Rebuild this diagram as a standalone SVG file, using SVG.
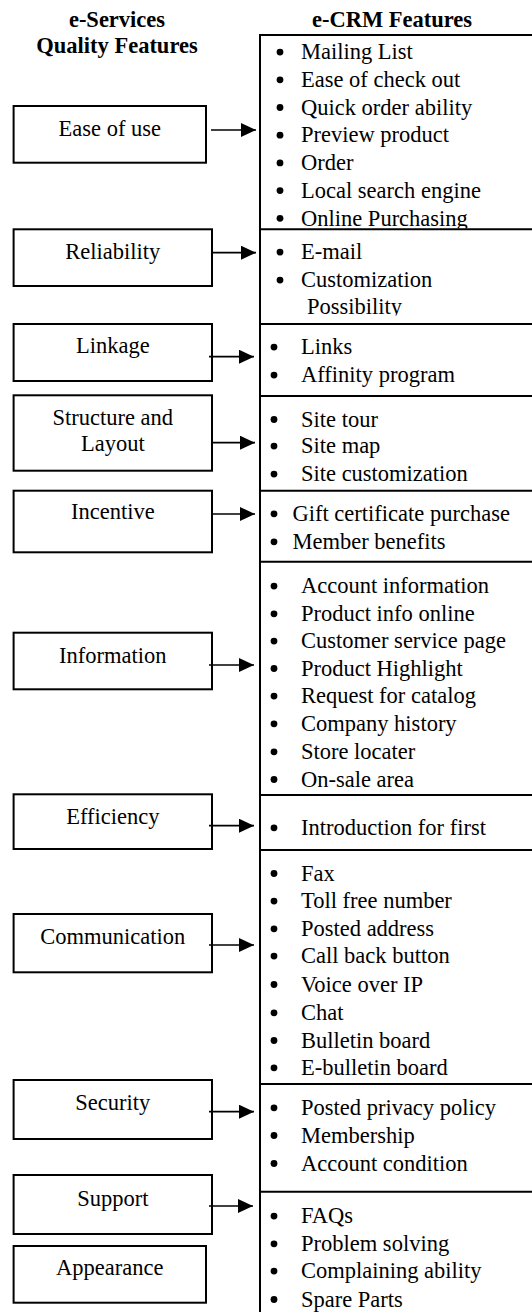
<svg xmlns="http://www.w3.org/2000/svg" width="532" height="1312" viewBox="0 0 532 1312">
<style>
.bg{fill:#fff}
.box{fill:#fff;stroke:#000;stroke-width:2}
.t{font-family:"Liberation Serif","Times New Roman",serif;font-size:22.5px;fill:#000}
.c{text-anchor:middle}
.h{font-weight:bold}
.ln{stroke:#000;stroke-width:1.7;fill:none}
.dv{stroke:#000;stroke-width:2;fill:none}
.b{fill:#000}
</style>
<defs>
<marker id="ah" markerUnits="userSpaceOnUse" markerWidth="15" markerHeight="14" refX="15" refY="7" orient="auto">
<path d="M0,0 L15,7 L0,14 z" fill="#000"/>
</marker>
<clipPath id="clip1"><rect x="260" y="35" width="272" height="193.5"/></clipPath>
<clipPath id="clip2"><rect x="260" y="230" width="272" height="85.5"/></clipPath>
</defs>
<rect class="bg" x="0" y="0" width="532" height="1312"/>

<g id="headers">
<text class="t c h" x="117" y="27">e-Services</text>
<text class="t c h" x="117" y="53">Quality Features</text>
<text class="t c h" x="392" y="27">e-CRM Features</text>
</g>

<g id="left-nodes">
<g id="n-ease"><rect class="box" x="13.6" y="106" width="192.4" height="56.7"/><text class="t c" x="109.8" y="136">Ease of use</text></g>
<g id="n-reliability"><rect class="box" x="13.6" y="229.3" width="198.4" height="56.7"/><text class="t c" x="112.8" y="259.3">Reliability</text></g>
<g id="n-linkage"><rect class="box" x="13.6" y="324" width="198.4" height="57"/><text class="t c" x="112.8" y="353.3">Linkage</text></g>
<g id="n-structure"><rect class="box" x="13.6" y="395.3" width="198.4" height="75.4"/><text class="t c" x="112.8" y="425">Structure and</text><text class="t c" x="112.8" y="451">Layout</text></g>
<g id="n-incentive"><rect class="box" x="13.6" y="490.7" width="198.4" height="61.6"/><text class="t c" x="112.8" y="519.3">Incentive</text></g>
<g id="n-information"><rect class="box" x="13.6" y="632.7" width="198.4" height="56.6"/><text class="t c" x="112.8" y="663.3">Information</text></g>
<g id="n-efficiency"><rect class="box" x="13.6" y="794.3" width="198.4" height="54.7"/><text class="t c" x="112.8" y="824">Efficiency</text></g>
<g id="n-communication"><rect class="box" x="13.6" y="914" width="198.4" height="58.3"/><text class="t c" x="112.8" y="944">Communication</text></g>
<g id="n-security"><rect class="box" x="13.6" y="1080" width="198.4" height="59"/><text class="t c" x="112.8" y="1110">Security</text></g>
<g id="n-support"><rect class="box" x="13.6" y="1175" width="198.4" height="59"/><text class="t c" x="112.8" y="1205.7">Support</text></g>
<g id="n-appearance"><rect class="box" x="13.6" y="1246" width="192.4" height="56.7"/><text class="t c" x="109.8" y="1275">Appearance</text></g>
</g>

<g id="right-column">
<path class="dv" d="M533,35 H260 V1313"/>
<g id="s-ease" clip-path="url(#clip1)">
<circle class="b" cx="280" cy="52.1" r="3.4"/><text class="t" x="301" y="59.3">Mailing List</text>
<circle class="b" cx="280" cy="79.8" r="3.4"/><text class="t" x="301" y="87">Ease of check out</text>
<circle class="b" cx="280" cy="107.5" r="3.4"/><text class="t" x="301" y="114.7">Quick order ability</text>
<circle class="b" cx="280" cy="135.2" r="3.4"/><text class="t" x="301" y="142.4">Preview product</text>
<circle class="b" cx="280" cy="162.9" r="3.4"/><text class="t" x="301" y="170.1">Order</text>
<circle class="b" cx="280" cy="190.6" r="3.4"/><text class="t" x="301" y="197.8">Local search engine</text>
<circle class="b" cx="280" cy="218.3" r="3.4"/><text class="t" x="301" y="225.5">Online Purchasing</text>
</g>
<g id="s-reliability">
<line class="dv" x1="260" y1="229.3" x2="533" y2="229.3"/>
<g clip-path="url(#clip2)">
<circle class="b" cx="280" cy="252.1" r="3.4"/><text class="t" x="301" y="259.3">E-mail</text>
<circle class="b" cx="280" cy="280.1" r="3.4"/><text class="t" x="301" y="287.3">Customization</text>
<text class="t" x="307" y="313.5">Possibility</text>
</g>
</g>
<g id="s-linkage">
<line class="dv" x1="260" y1="324" x2="533" y2="324"/>
<circle class="b" cx="274" cy="347.1" r="3.4"/><text class="t" x="301" y="354.3">Links</text>
<circle class="b" cx="274" cy="375.1" r="3.4"/><text class="t" x="301" y="382.3">Affinity program</text>
</g>
<g id="s-structure">
<line class="dv" x1="260" y1="396" x2="533" y2="396"/>
<circle class="b" cx="274" cy="419.5" r="3.4"/><text class="t" x="301" y="426.7">Site tour</text>
<circle class="b" cx="274" cy="446.1" r="3.4"/><text class="t" x="301" y="453.3">Site map</text>
<circle class="b" cx="274" cy="474.1" r="3.4"/><text class="t" x="301" y="481.3">Site customization</text>
</g>
<g id="s-incentive">
<line class="dv" x1="260" y1="490.7" x2="533" y2="490.7"/>
<circle class="b" cx="274" cy="513.8" r="3.4"/><text class="t" x="292.5" y="521">Gift certificate purchase</text>
<circle class="b" cx="274" cy="541.8" r="3.4"/><text class="t" x="292.5" y="549">Member benefits</text>
</g>
<g id="s-information">
<line class="dv" x1="260" y1="561.7" x2="533" y2="561.7"/>
<circle class="b" cx="274" cy="586.1" r="3.4"/><text class="t" x="301" y="593.3">Account information</text>
<circle class="b" cx="274" cy="613.8" r="3.4"/><text class="t" x="301" y="621">Product info online</text>
<circle class="b" cx="274" cy="641.1" r="3.4"/><text class="t" x="301" y="648.3">Customer service page</text>
<circle class="b" cx="274" cy="668.5" r="3.4"/><text class="t" x="301" y="675.7">Product Highlight</text>
<circle class="b" cx="274" cy="696.1" r="3.4"/><text class="t" x="301" y="703.3">Request for catalog</text>
<circle class="b" cx="274" cy="723.8" r="3.4"/><text class="t" x="301" y="731">Company history</text>
<circle class="b" cx="274" cy="751.8" r="3.4"/><text class="t" x="301" y="759">Store locater</text>
<circle class="b" cx="274" cy="779.5" r="3.4"/><text class="t" x="301" y="786.7">On-sale area</text>
</g>
<g id="s-efficiency">
<line class="dv" x1="260" y1="795" x2="533" y2="795"/>
<circle class="b" cx="274" cy="827.8" r="3.4"/><text class="t" x="301" y="835">Introduction for first</text>
</g>
<g id="s-communication">
<line class="dv" x1="260" y1="850" x2="533" y2="850"/>
<circle class="b" cx="274" cy="873.5" r="3.4"/><text class="t" x="301" y="880.7">Fax</text>
<circle class="b" cx="274" cy="901.1" r="3.4"/><text class="t" x="301" y="908.3">Toll free number</text>
<circle class="b" cx="274" cy="928.8" r="3.4"/><text class="t" x="301" y="936">Posted address</text>
<circle class="b" cx="274" cy="956.1" r="3.4"/><text class="t" x="301" y="963.3">Call back button</text>
<circle class="b" cx="274" cy="984.5" r="3.4"/><text class="t" x="301" y="991.7">Voice over IP</text>
<circle class="b" cx="274" cy="1012.8" r="3.4"/><text class="t" x="301" y="1020">Chat</text>
<circle class="b" cx="274" cy="1040.5" r="3.4"/><text class="t" x="301" y="1047.7">Bulletin board</text>
<circle class="b" cx="274" cy="1067.8" r="3.4"/><text class="t" x="301" y="1075">E-bulletin board</text>
</g>
<g id="s-security">
<line class="dv" x1="260" y1="1084" x2="533" y2="1084"/>
<circle class="b" cx="274" cy="1107.8" r="3.4"/><text class="t" x="301" y="1115">Posted privacy policy</text>
<circle class="b" cx="274" cy="1135.5" r="3.4"/><text class="t" x="301" y="1142.7">Membership</text>
<circle class="b" cx="274" cy="1163.5" r="3.4"/><text class="t" x="301" y="1170.7">Account condition</text>
</g>
<g id="s-support">
<line class="dv" x1="260" y1="1191.7" x2="533" y2="1191.7"/>
<circle class="b" cx="274" cy="1216.1" r="3.4"/><text class="t" x="301" y="1223.3">FAQs</text>
<circle class="b" cx="274" cy="1243.8" r="3.4"/><text class="t" x="301" y="1251">Problem solving</text>
<circle class="b" cx="274" cy="1271.1" r="3.4"/><text class="t" x="301" y="1278.3">Complaining ability</text>
<circle class="b" cx="274" cy="1299.5" r="3.4"/><text class="t" x="301" y="1306.7">Spare Parts</text>
</g>
</g>

<g id="connectors">
<line class="ln" x1="211" y1="130" x2="256" y2="130" marker-end="url(#ah)"/>
<line class="ln" x1="212" y1="252.7" x2="256" y2="252.7" marker-end="url(#ah)"/>
<line class="ln" x1="209" y1="356.7" x2="254" y2="356.7" marker-end="url(#ah)"/>
<line class="ln" x1="212" y1="442.7" x2="255" y2="442.7" marker-end="url(#ah)"/>
<line class="ln" x1="212" y1="514" x2="255" y2="514" marker-end="url(#ah)"/>
<line class="ln" x1="209" y1="665" x2="254" y2="665" marker-end="url(#ah)"/>
<line class="ln" x1="209" y1="825.7" x2="254" y2="825.7" marker-end="url(#ah)"/>
<line class="ln" x1="209" y1="945" x2="254" y2="945" marker-end="url(#ah)"/>
<line class="ln" x1="209" y1="1111.7" x2="254" y2="1111.7" marker-end="url(#ah)"/>
<line class="ln" x1="209" y1="1206" x2="253" y2="1206" marker-end="url(#ah)"/>
</g>
</svg>
